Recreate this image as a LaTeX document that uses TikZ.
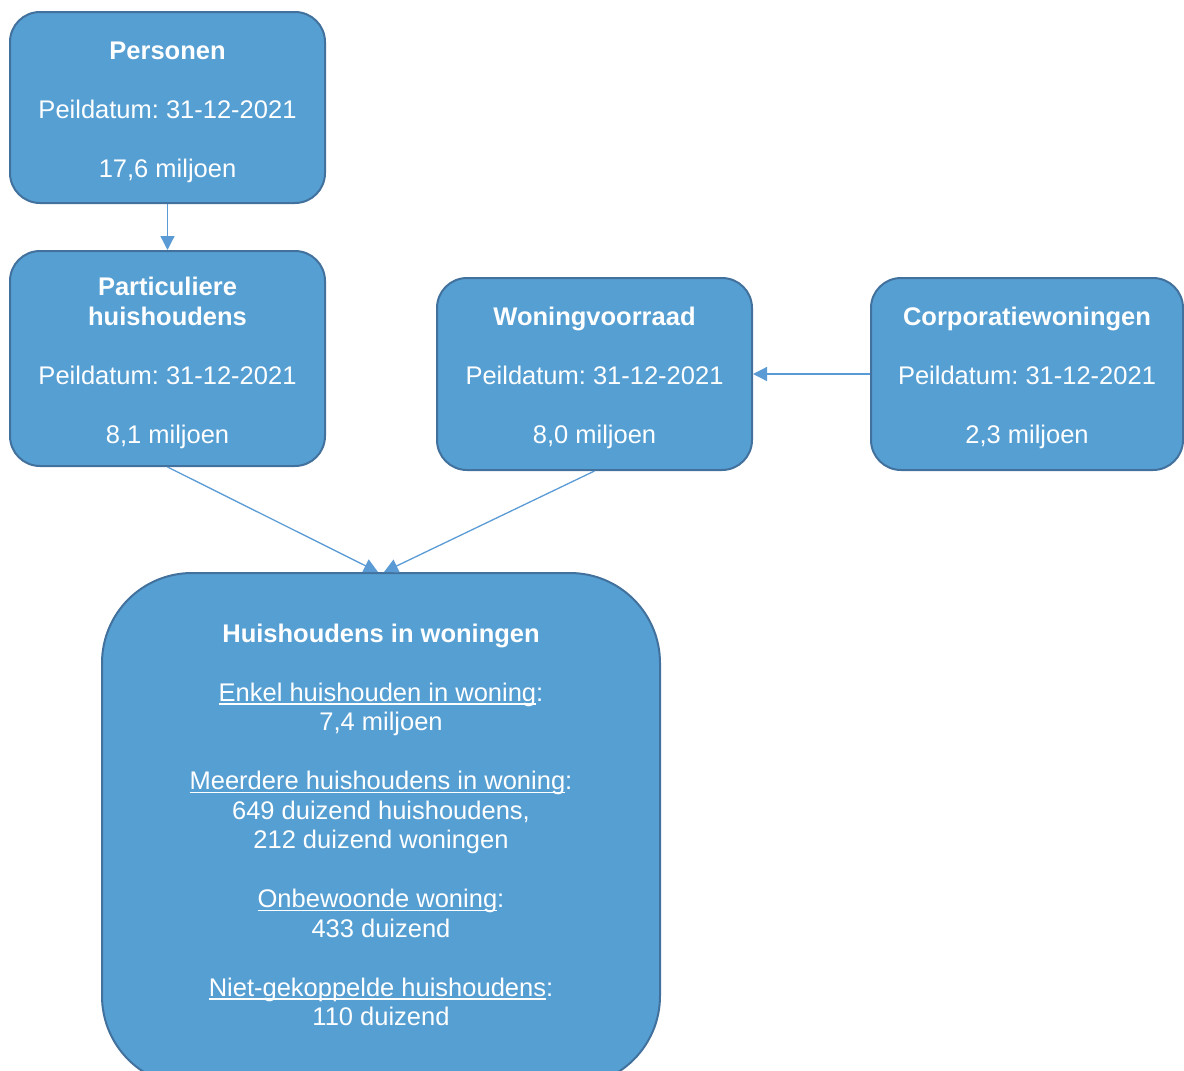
\documentclass[tikz,border=0pt]{standalone}
\usepackage{fontspec}
\setmainfont{Liberation Sans}
\usetikzlibrary{arrows.meta}
\definecolor{boxfill}{RGB}{86,159,211}
\definecolor{boxline}{RGB}{65,113,156}
\definecolor{arrowc}{RGB}{91,155,213}
\newcommand\myul[1]{{\setbox0\hbox{#1}\rlap{\rule[-3.5pt]{\wd0}{1.4pt}}\box0}}
\newcommand\topstrut{\rule{0pt}{27pt}}
\frenchspacing
\begin{document}
\begin{tikzpicture}[x=1pt,y=-1pt,
  box/.style={draw=boxline, line width=2pt, fill=boxfill, rounded corners=30pt,
    text=white, align=center, font=\fontsize{25.5}{29.5}\selectfont\frenchspacing, inner sep=0pt},
  boxtext/.style={text=white, align=center, font=\fontsize{25.5}{29.5}\selectfont\frenchspacing, inner sep=0pt},
  conn/.style={draw=arrowc, line width=1.3pt, -{Triangle[length=14pt,width=14pt]}}]
\useasboundingbox (0,0) rectangle (1184,1071);
\clip (0,0) rectangle (1184,1071);
\node[box, minimum width=315pt, minimum height=191pt] (pers) at (167.5,107.5)
  {\topstrut\textbf{Personen}\\[29.5pt]Peildatum: 31-12-2021\\[29.5pt]17,6 miljoen};
\node[box, minimum width=315pt, minimum height=215pt] (part) at (167.5,358.5)
  {\topstrut\textbf{Particuliere}\\\textbf{huishoudens}\\[29.5pt]Peildatum: 31-12-2021\\[29.5pt]8,1 miljoen};
\node[box, minimum width=315pt, minimum height=192pt] (woon) at (594.5,374)
  {\topstrut\textbf{Woningvoorraad}\\[29.5pt]Peildatum: 31-12-2021\\[29.5pt]8,0 miljoen};
\node[box, minimum width=312pt, minimum height=192pt] (corp) at (1027,374)
  {\topstrut\textbf{Corporatiewoningen}\\[29.5pt]Peildatum: 31-12-2021\\[29.5pt]2,3 miljoen};
\node[box, rounded corners=90pt, minimum width=558pt, minimum height=513pt] (hw) at (381,829.5) {};
\node[boxtext, anchor=north] (hwtext) at (381,623.5)
  {\textbf{Huishoudens in woningen}\\[29.5pt]
   \myul{Enkel huishouden in woning}:\\7,4 miljoen\\[29.5pt]
   \myul{Meerdere huishoudens in woning}:\\649 duizend huishoudens,\\212 duizend woningen\\[29.5pt]
   \myul{Onbewoonde woning}:\\433 duizend\\[29.5pt]
   \myul{Niet-gekoppelde huishoudens}:\\110 duizend};
\draw[conn] (pers.south) -- (part.north);
\draw[conn] (part.south) -- ([xshift=-3pt]hw.north);
\draw[conn] (woon.south) -- ([xshift=3pt]hw.north);
\draw[conn] (corp.west) -- (woon.east);
\end{tikzpicture}
\end{document}
